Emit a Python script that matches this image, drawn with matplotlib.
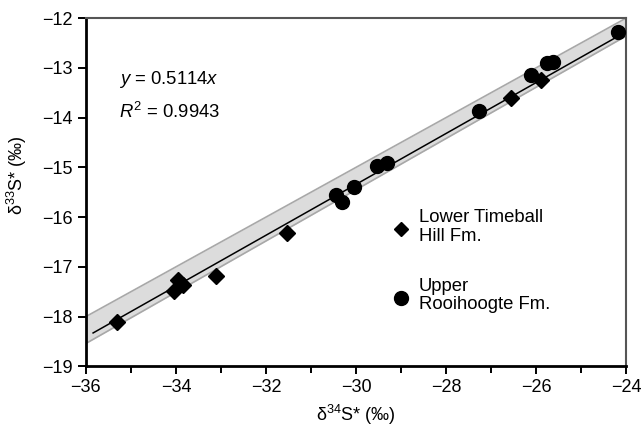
import matplotlib.pyplot as plt
import numpy as np

plt.rcParams['font.family'] = ['Liberation Sans', 'DejaVu Sans']
plt.rcParams['mathtext.fontset'] = 'custom'
plt.rcParams['mathtext.rm'] = 'Liberation Sans'
plt.rcParams['mathtext.it'] = 'Liberation Sans:italic'

# Lower Timeball Hill Fm. (diamonds)
ltb_x = [-35.30, -34.04, -33.95, -33.85, -33.12, -31.54, -26.56, -25.89]
ltb_y = [-18.10, -17.48, -17.26, -17.36, -17.18, -16.32, -13.60, -13.24]

# Upper Rooihoogte Fm. (circles)
ur_x = [-30.44, -30.32, -30.04, -29.53, -29.32, -27.28, -26.11, -25.76, -25.62, -24.19]
ur_y = [-15.55, -15.69, -15.40, -14.97, -14.92, -13.86, -13.14, -12.91, -12.89, -12.29]

slope = 0.5114
r2 = 0.9943
band_lo, band_hi = 0.5, 0.515
fit_range = [-35.84, -24.2]

fig = plt.figure(figsize=(6.41, 4.29), dpi=100)
ax = fig.add_axes([0.134, 0.146, 0.843, 0.812])

bx = np.array([-36, -24])
ax.fill_between(bx, band_lo * bx, band_hi * bx, color='#dcdcdc', lw=0, zorder=1)
ax.plot(bx, band_lo * bx, color='#a8a8a8', lw=1.2, zorder=1.5)
ax.plot(bx, band_hi * bx, color='#a8a8a8', lw=1.2, zorder=1.5)

fx = np.array(fit_range)
ax.plot(fx, slope * fx, color='black', lw=1.1, zorder=2)

ax.plot(ltb_x, ltb_y, 'D', color='black', ms=8.5, zorder=3, ls='none')
ax.plot(ur_x, ur_y, 'o', color='black', ms=10, zorder=3, ls='none')

ax.set_xlim(-36, -24)
ax.set_ylim(-19, -12)
ax.set_xticks(np.arange(-36, -23, 2))
ax.set_xticks(np.arange(-35, -24, 2), minor=True)
ax.set_yticks(np.arange(-19, -11, 1))
ax.set_xticklabels(['\u2212%d' % abs(v) for v in range(-36, -23, 2)])
ax.set_yticklabels(['\u2212%d' % abs(v) for v in range(-19, -11, 1)])
ax.tick_params(which='both', direction='out', width=1.4, labelsize=13, color='black')
ax.tick_params(which='major', length=6)
ax.tick_params(which='minor', length=5)
ax.tick_params(axis='x', pad=3)

for s in ['left', 'bottom']:
    ax.spines[s].set_linewidth(2)
    ax.spines[s].set_color('black')
for s in ['top', 'right']:
    ax.spines[s].set_linewidth(1.5)
    ax.spines[s].set_color('#555555')

ax.text(-35.27, -13.24, r'$y$ = 0.5114$x$', fontsize=13.3, va='center')
ax.text(-35.27, -13.88, r'$R^2$ = 0.9943', fontsize=13.3, va='center')

# legend drawn by hand
ax.plot([-29.0], [-16.24], 'D', color='black', ms=7.5, clip_on=False)
ax.text(-28.6, -16.2, 'Lower Timeball\nHill Fm.', fontsize=13.3, va='center',
        linespacing=1.1)
ax.plot([-29.0], [-17.62], 'o', color='black', ms=10, clip_on=False)
ax.text(-28.6, -17.58, 'Upper\nRooihoogte Fm.', fontsize=13.3, va='center',
        linespacing=1.1)

ax.set_xlabel('δ$^{34}$S* (‰)', fontsize=13, labelpad=5)
ax.set_ylabel('δ$^{33}$S* (‰)', fontsize=13)
ax.yaxis.set_label_coords(-0.105, 0.55)

fig.savefig('out.png', dpi=100)
